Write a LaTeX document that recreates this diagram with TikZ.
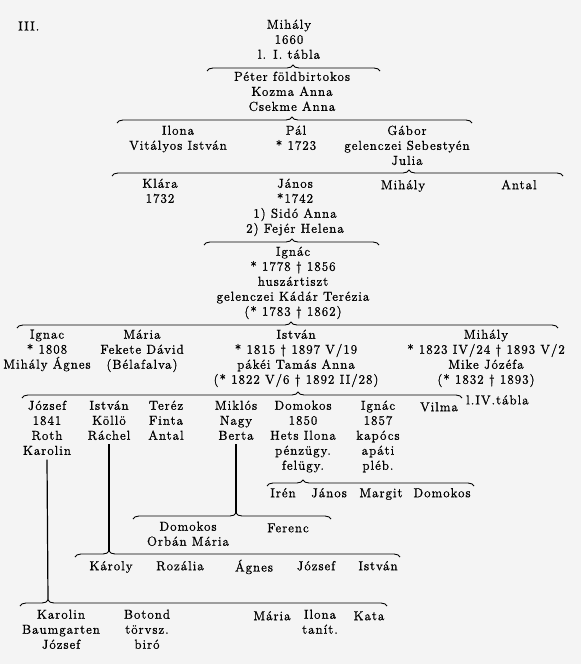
\documentclass[tikz,border=0pt]{standalone}
\usepackage{fontspec}
\setmainfont{Latin Modern Roman}[LetterSpace=8, FakeBold=1.2]
\usetikzlibrary{decorations.pathreplacing}
\definecolor{paper}{RGB}{244,244,244}
\newcommand\gfont{\fontsize{13}{15}\selectfont}
\tikzset{
  person/.style={anchor=north, yshift=6.5pt, align=center, inner sep=0pt, font=\gfont, execute at begin node=\strut},
  famline/.style={line width=0.9pt, black},
  vline/.style={line width=1.2pt, black},
}
% name, x0, x1, line y, tip x
\newcommand\fambrace[5]{%
  \coordinate (#1l) at (#2,#4+3);
  \coordinate (#1r) at (#3,#4+3);
  \coordinate (#1t) at (#5,#4-3);
  \pgfmathsetmacro\famasp{(#5-#2)/(#3-#2)}
  \draw[famline, decorate, decoration={brace, amplitude=6pt, aspect=\famasp}] (#1l) -- (#1r);
}
\begin{document}
\begin{tikzpicture}[x=1pt, y=-1pt]
\fill[paper] (0,0) rectangle (581,664);
\useasboundingbox (0,0) rectangle (581,664);

\node[anchor=west, inner sep=0pt, font=\gfont] (tabnum) at (18,26) {III.};

\node[person] (mih0) at (289,26) {Mihály\\1660\\l. I. tábla};
\fambrace{b1}{207}{380}{68}{293}
\node[person] (peter) at (292,78) {Péter földbirtokos\\Kozma Anna\\Csekme Anna};
\fambrace{b2}{117}{472}{120}{292}
\node[person] (ilona) at (178,132) {Ilona\\Vitályos István};
\node[person] (pal) at (296,132) {Pál\\* 1723};
\node[person] (gabor) at (407,132) {Gábor\\gelenczei Sebestyén\\Julia};
\fambrace{b3}{112}{563}{173}{409}
\node[person] (klara) at (160,185) {Klára\\1732};
\node[person] (janos) at (295,185) {János\\*1742\\1) Sidó Anna\\2) Fejér Helena};
\node[person] (mih1) at (403,185) {Mihály};
\node[person] (antal) at (519,185) {Antal};
\fambrace{b4}{204}{379}{242}{292}
\node[person] (ignac) at (293,253) {Ignác\\* 1778 † 1856\\huszártiszt\\gelenczei Kádár Terézia\\(* 1783 † 1862)};
\fambrace{b5}{17}{558}{325}{291}
\node[person] (ignac2) at (47,336) {Ignac\\* 1808\\Mihály Ágnes};
\node[person] (maria) at (142,336) {Mária\\Fekete Dávid\\(Bélafalva)};
\node[person] (istvan) at (296,336) {István\\* 1815 † 1897 V/19\\pákéi Tamás Anna\\(* 1822 V/6 † 1892 II/28)};
\node[person] (mih2) at (486,336) {Mihály\\* 1823 IV/24 † 1893 V/2\\Mike Józéfa\\(* 1832 † 1893)};
\fambrace{b6}{22}{462}{395}{298}
\node[anchor=west, inner sep=0pt, font=\gfont] (ltab) at (466,400) {l.IV.tábla};
\node[person] (jozsef) at (47,407) {József\\1841\\Roth\\Karolin};
\node[person] (istvan2) at (109,407) {István\\Köllö\\Ráchel};
\node[person] (terez) at (166,407) {Teréz\\Finta\\Antal};
\node[person] (miklos) at (236,407) {Miklós\\Nagy\\Berta};
\node[person] (domokos) at (303,407) {Domokos\\1850\\Hets Ilona\\pénzügy.\\felügy.};
\node[person] (ignac3) at (378,407) {Ignác\\1857\\kapócs\\apáti\\pléb.};
\node[person] (vilma) at (439,407) {Vilma};
\fambrace{b7}{267}{474}{483}{303}
\node[person] (iren) at (283,493) {Irén};
\node[person] (janos2) at (329,493) {János};
\node[person] (margit) at (381,493) {Margit};
\node[person] (domokos3) at (442,493) {Domokos};
\fambrace{b8}{133}{331}{516}{236}
\draw[vline] (miklos.south) -- (b8t);
\node[person] (domokos2) at (188,528) {Domokos\\Orbán Mária};
\node[person] (ferenc) at (288,528) {Ferenc};
\fambrace{b9}{75}{400}{554}{109}
\draw[vline] (istvan2.south) -- (b9t);
\node[person] (karoly) at (111,566) {Károly};
\node[person] (rozalia) at (180,566) {Rozália};
\node[person] (agnes) at (254,566) {Ágnes};
\node[person] (jozsef2) at (316,566) {József};
\node[person] (istvan3) at (378,566) {István};
\fambrace{b10}{20}{387}{603}{48}
\draw[vline] (jozsef.south) -- (b10t);
\node[person] (karolin) at (61,616) {Karolin\\Baumgarten\\József};
\node[person] (botond) at (147,616) {Botond\\törvsz.\\biró};
\node[person] (maria2) at (272,616) {Mária};
\node[person] (ilona2) at (320,616) {Ilona\\tanít.};
\node[person] (kata) at (369,616) {Kata};
\end{tikzpicture}
\end{document}
